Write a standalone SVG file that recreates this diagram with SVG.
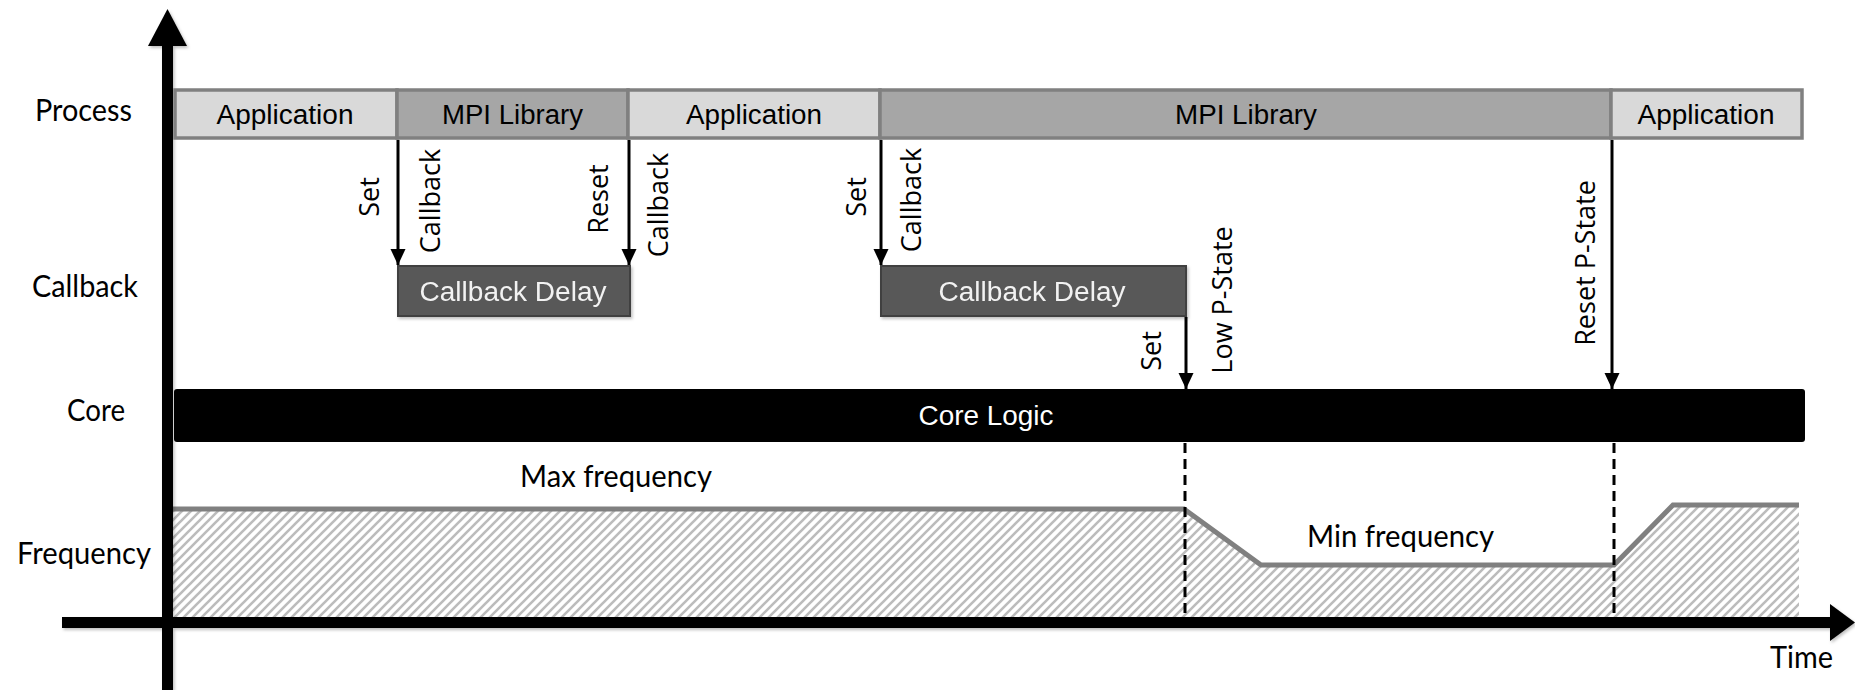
<svg xmlns="http://www.w3.org/2000/svg" width="1855" height="690" viewBox="0 0 1855 690">
  <style>
    .row { font-family: Lato, "Open Sans", "Liberation Sans", sans-serif; font-size: 30px; fill: #000; }
    .box { font-family: "Liberation Sans", Arial, sans-serif; font-size: 27px; text-anchor: middle; }
    .rot { font-family: "Open Sans", "DejaVu Sans", sans-serif; font-size: 27px; text-anchor: middle; fill: #000; }
    .app { fill: #d9d9d9; stroke: #808080; stroke-width: 3.5; }
    .mpi { fill: #a6a6a6; stroke: #808080; stroke-width: 3.5; }
    .delay { fill: #595959; stroke: #404040; stroke-width: 2; }
    .arrow { stroke: #000; stroke-width: 3; fill: none; marker-end: url(#ah); }
    .dash { stroke: #000; stroke-width: 3; stroke-dasharray: 10 6; fill: none; }
  </style>
  <defs>
    <marker id="ah" viewBox="0 0 16 16" refX="16" refY="8" markerWidth="16" markerHeight="16" markerUnits="userSpaceOnUse" orient="auto">
      <path d="M0,0.5 L16,8 L0,15.5 Z" fill="#000"/>
    </marker>
    <pattern id="hatch" patternUnits="userSpaceOnUse" width="9" height="9">
      <path d="M-2,2 L2,-2 M0,9 L9,0 M7,11 L11,7" stroke="#bcbcbc" stroke-width="2.6"/>
    </pattern>
    <filter id="sh" x="-5%" y="-5%" width="110%" height="130%">
      <feDropShadow dx="1.5" dy="2" stdDeviation="1.5" flood-color="#000" flood-opacity="0.25"/>
    </filter>
  </defs>
  <rect width="1855" height="690" fill="#fff"/>

  <!-- frequency area -->
  <g id="frequency">
    <polygon points="173,509 1184,509 1261,565 1614,565 1673,505 1799,505 1799,617 173,617" fill="url(#hatch)"/>
    <polyline points="173,509 1184,509 1261,565 1614,565 1673,505 1799,505" fill="none" stroke="#808080" stroke-width="5"/>
  </g>

  <!-- axes -->
  <g id="axes" filter="url(#sh)">
    <rect x="162" y="44" width="11" height="646" fill="#000"/>
    <polygon points="167.5,9 148,46 187,46" fill="#000"/>
    <rect x="62" y="617" width="1770" height="11" fill="#000"/>
    <polygon points="1855,622.5 1830,604 1830,641" fill="#000"/>
  </g>

  <!-- process row -->
  <g id="proc-app1"><rect class="app" x="175" y="90" width="222" height="48"/><text class="box" x="285" y="124" textLength="137" lengthAdjust="spacingAndGlyphs">Application</text></g>
  <g id="proc-mpi1"><rect class="mpi" x="397" y="90" width="231" height="48"/><text class="box" x="512.5" y="124" textLength="141" lengthAdjust="spacingAndGlyphs">MPI Library</text></g>
  <g id="proc-app2"><rect class="app" x="628" y="90" width="252" height="48"/><text class="box" x="754" y="124" textLength="136" lengthAdjust="spacingAndGlyphs">Application</text></g>
  <g id="proc-mpi2"><rect class="mpi" x="880" y="90" width="731" height="48"/><text class="box" x="1246" y="124" textLength="142" lengthAdjust="spacingAndGlyphs">MPI Library</text></g>
  <g id="proc-app3"><rect class="app" x="1611" y="90" width="191" height="48"/><text class="box" x="1706" y="124" textLength="137" lengthAdjust="spacingAndGlyphs">Application</text></g>

  <!-- callback delays -->
  <g id="delay1" filter="url(#sh)"><rect class="delay" x="398" y="266" width="232" height="50"/><text class="box" x="513" y="301" fill="#f2f2f2" textLength="187" lengthAdjust="spacingAndGlyphs">Callback Delay</text></g>
  <g id="delay2" filter="url(#sh)"><rect class="delay" x="881" y="266" width="305" height="50"/><text class="box" x="1032" y="301" fill="#f2f2f2" textLength="187" lengthAdjust="spacingAndGlyphs">Callback Delay</text></g>

  <!-- core -->
  <g id="core"><rect x="174" y="389" width="1631" height="53" rx="3" fill="#000"/><text class="box" x="986" y="425" fill="#fff" textLength="135" lengthAdjust="spacingAndGlyphs">Core Logic</text></g>

  <!-- connectors -->
  <g id="connectors">
    <line class="arrow" x1="398" y1="140" x2="398" y2="265"/>
    <line class="arrow" x1="629" y1="140" x2="629" y2="265"/>
    <line class="arrow" x1="881" y1="140" x2="881" y2="265"/>
    <line class="arrow" x1="1186" y1="317" x2="1186" y2="389"/>
    <line class="arrow" x1="1612" y1="140" x2="1612" y2="389"/>
    <line class="dash" x1="1185" y1="443" x2="1185" y2="617"/>
    <line class="dash" x1="1614" y1="443" x2="1614" y2="617"/>
  </g>

  <!-- connector labels -->
  <g id="arrow-labels">
    <text class="rot" transform="translate(379,197) rotate(-90)">Set</text>
    <text class="rot" transform="translate(440,201) rotate(-90)">Callback</text>
    <text class="rot" transform="translate(608,199) rotate(-90)">Reset</text>
    <text class="rot" transform="translate(668,205) rotate(-90)">Callback</text>
    <text class="rot" transform="translate(866,197) rotate(-90)">Set</text>
    <text class="rot" transform="translate(921,200) rotate(-90)">Callback</text>
    <text class="rot" transform="translate(1161,351) rotate(-90)">Set</text>
    <text class="rot" transform="translate(1232,300) rotate(-90)">Low P-State</text>
    <text class="rot" transform="translate(1595,263) rotate(-90)">Reset P-State</text>
  </g>

  <!-- row labels -->
  <g id="row-labels">
    <text class="row" x="35" y="121" textLength="97" lengthAdjust="spacingAndGlyphs">Process</text>
    <text class="row" x="32" y="297" textLength="106" lengthAdjust="spacingAndGlyphs">Callback</text>
    <text class="row" x="67" y="421" textLength="58" lengthAdjust="spacingAndGlyphs">Core</text>
    <text class="row" x="17" y="564" textLength="134" lengthAdjust="spacingAndGlyphs">Frequency</text>
    <text class="row" x="1770" y="668" textLength="63" lengthAdjust="spacingAndGlyphs">Time</text>
    <text class="row" x="520" y="487" textLength="192" lengthAdjust="spacingAndGlyphs">Max frequency</text>
    <text class="row" x="1307" y="547" textLength="187" lengthAdjust="spacingAndGlyphs">Min frequency</text>
  </g>
</svg>
